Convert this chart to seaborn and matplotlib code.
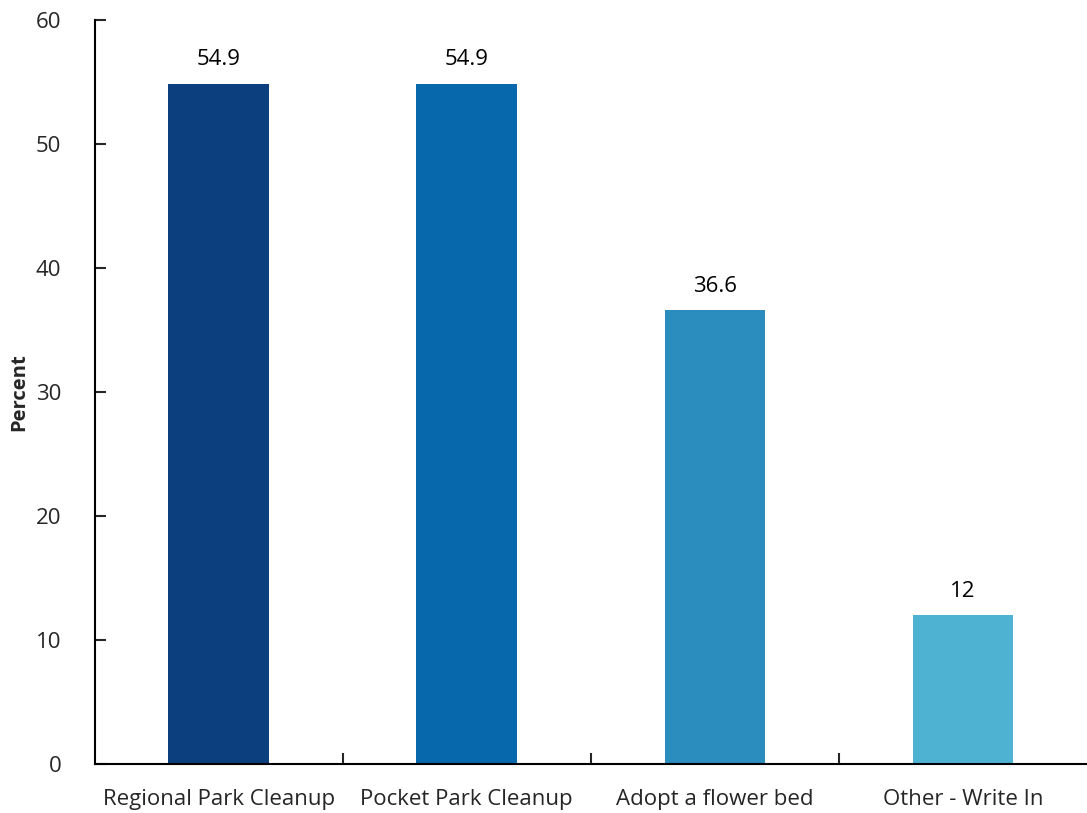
import matplotlib
matplotlib.use("Agg")
import matplotlib.pyplot as plt
import seaborn as sns
import pandas as pd

categories = ["Regional Park Cleanup", "Pocket Park Cleanup", "Adopt a flower bed", "Other - Write In"]
percent = [54.9, 54.9, 36.6, 12]
labels = ["54.9", "54.9", "36.6", "12"]
colors = ["#0b3f7e", "#0868ac", "#2b8cbe", "#4eb3d3"]

sns.set_style("white")
plt.rcParams['font.family'] = ['Open Sans', 'DejaVu Sans']

df = pd.DataFrame({"category": categories, "percent": percent})

fig, ax = plt.subplots(figsize=(10.87, 8.13), dpi=100)
fig.subplots_adjust(left=0.087, right=1.0, top=0.975, bottom=0.06)

sns.barplot(data=df, x="category", y="percent", hue="category", palette=colors,
            width=0.405, legend=False, ax=ax, saturation=1, linewidth=0)

for i, (v, t) in enumerate(zip(percent, labels)):
    ax.text(i, v + 1.1, t, ha="center", va="bottom", fontsize=16, color="#000000")

ax.set_ylim(0, 60)
ax.set_xlim(-0.5, 3.5)
ax.set_yticks(range(0, 61, 10))
ax.set_xlabel("")
ax.set_ylabel("Percent", fontsize=14.5, fontweight="bold")
ax.yaxis.set_label_coords(-0.066, 0.5)

for s in ["top", "right"]:
    ax.spines[s].set_visible(False)
for s in ["left", "bottom"]:
    ax.spines[s].set_color("black")
    ax.spines[s].set_linewidth(1.5)

ax.tick_params(axis="y", direction="in", length=8, width=1.5, labelsize=16, pad=24, left=True)
ax.set_xticks([0.5, 1.5, 2.5], minor=True)
ax.tick_params(axis="x", which="minor", direction="in", length=8, width=1.5, bottom=True)
ax.tick_params(axis="x", which="major", length=0, labelsize=16, pad=18)

fig.savefig("out.png", dpi=100)
